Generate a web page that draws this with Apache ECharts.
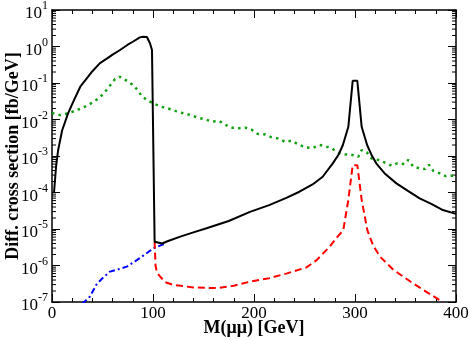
<!DOCTYPE html>
<html>
<head>
<meta charset="utf-8">
<script src="https://cdn.jsdelivr.net/npm/echarts@6/dist/echarts.min.js"></script>
<style>html,body{margin:0;padding:0;background:#fff}#c{width:470px;height:340px}</style>
</head>
<body>
<div id="c"></div>
<script>
// x tick labels
const xTicks = [0, 100, 200, 300, 400];
// y decade exponents shown as tick labels
const yExponents = [-7, -6, -5, -4, -3, -2, -1, 0, 1];

// total (black, solid)
const totalPts = [
  [2, 1.0e-4], [4, 5e-4], [6, 1.4e-3], [10, 5e-3], [16, 1.5e-2], [22, 3.5e-2],
  [28, 7.9e-2], [35, 0.14], [40, 0.21], [47.5, 0.35], [55, 0.48], [60, 0.6],
  [67, 0.79], [75, 1.12], [80, 1.35], [87, 1.78], [90, 1.86], [94, 1.82],
  [97, 1.23], [99, 0.8], [101.6, 4.5e-6], [109, 4.0e-6], [115, 4.7e-6],
  [127, 6.2e-6], [140, 8.1e-6], [153, 1.05e-5], [175, 1.66e-5], [196, 2.95e-5],
  [215, 4.5e-5], [232, 7.1e-5], [245, 1.05e-4], [258, 1.66e-4], [268, 2.7e-4],
  [278, 6.3e-4], [284, 1.12e-3], [288, 2.0e-3], [293.4, 6.3e-3], [297.7, 0.115],
  [302.3, 0.115], [306.6, 6.3e-3], [312, 2.0e-3], [316, 1.12e-3], [321, 6.3e-4],
  [330, 3.2e-4], [341, 1.78e-4], [352, 1.12e-4], [364, 6.9e-5], [376, 4.8e-5],
  [387, 3.3e-5], [400, 2.6e-5]
];

// red, dashed
const redPts = [
  [101.6, 4.5e-6], [102.5, 1.0e-6], [104, 6.3e-7], [107, 5e-7], [112, 3.5e-7],
  [120, 2.95e-7], [140, 2.5e-7], [163, 2.4e-7], [180, 2.8e-7], [196, 3.6e-7],
  [215, 4.5e-7], [232, 6.0e-7], [252, 8.9e-7], [262, 1.4e-6], [275, 3.3e-6],
  [283, 6.3e-6], [288.4, 9.3e-6], [293.4, 6.3e-5], [297.7, 5.6e-4], [302.3, 5.6e-4],
  [306.6, 6.3e-5], [312.2, 9.3e-6], [318, 3.5e-6], [324.8, 1.74e-6], [338, 7.6e-7],
  [357.8, 3.2e-7], [375, 1.6e-7], [384, 1.12e-7], [390, 7e-8]
];

// blue, dash-dot
const bluePts = [
  [30, 8.9e-8], [37.4, 1.4e-7], [44, 3.0e-7], [50, 4.5e-7], [57.4, 6.8e-7],
  [64, 7.6e-7], [74, 9.3e-7], [84, 1.4e-6], [92, 2.0e-6], [100.3, 2.95e-6],
  [113, 4.1e-6]
];

// green, dotted
const greenPts = [
  [0, 1.51e-2], [8, 1.32e-2], [16, 1.48e-2], [24, 1.78e-2], [30, 2.09e-2],
  [36, 2.5e-2], [42, 3.16e-2], [48, 4.2e-2], [53.5, 6.2e-2], [58, 8.9e-2],
  [62.4, 0.129], [67.3, 0.148], [73, 0.12], [80, 8.9e-2], [85, 6.3e-2],
  [89, 4.3e-2], [95.3, 3.24e-2], [102, 2.63e-2], [108, 2.24e-2], [115, 2.0e-2],
  [122.8, 1.7e-2], [130, 1.48e-2], [137.3, 1.32e-2], [144.2, 1.12e-2],
  [151.5, 1.02e-2], [158.4, 8.7e-3], [165.7, 9.1e-3], [170.6, 7.4e-3],
  [177.2, 6.0e-3], [184.5, 5.75e-3], [191.1, 6.0e-3], [197.7, 5.25e-3],
  [203.3, 4.07e-3], [210.9, 3.9e-3], [217.5, 3.24e-3], [224.1, 3.0e-3],
  [230.7, 2.45e-3], [237.3, 2.63e-3], [243.9, 2.09e-3], [250.5, 1.74e-3],
  [258, 1.66e-3], [264.7, 2.0e-3], [270.3, 1.86e-3], [276.9, 1.62e-3],
  [283.5, 1.23e-3], [290, 1.12e-3], [297.3, 1.07e-3], [303.3, 9.5e-4],
  [306.6, 1.45e-3], [311.6, 1.26e-3], [316.5, 8.5e-4], [323, 7.8e-4],
  [329.7, 6.6e-4], [336.3, 5.4e-4], [341.9, 6.3e-4], [348.8, 6.0e-4],
  [352.8, 7.8e-4], [357.8, 5.1e-4], [363.7, 4.6e-4], [369.3, 4.4e-4],
  [373.3, 5.75e-4], [377.6, 3.9e-4], [383.5, 3.4e-4], [390, 2.8e-4],
  [397.3, 2.9e-4], [400, 2.75e-4]
];

const X_MIN = xTicks[0], X_MAX = xTicks[xTicks.length - 1];
const Y_MIN = Math.pow(10, yExponents[0]), Y_MAX = Math.pow(10, yExponents[yExponents.length - 1]);

// log minor tick positions (2..9 x 10^n)
const minorY = [];
for (let e = yExponents[0]; e < yExponents[yExponents.length - 1]; e++) {
  for (let m = 2; m <= 9; m++) minorY.push([X_MIN, m * Math.pow(10, e)]);
}

const FONT = '"Liberation Serif", "Times New Roman", serif';
const chart = echarts.init(document.getElementById('c'), null, {renderer: 'canvas'});

const tickStyle = {color: '#000', width: 1};
chart.setOption({
  animation: false,
  backgroundColor: '#fff',
  grid: {left: 52, right: 14, top: 10, bottom: 38, containLabel: false, outerBoundsMode: 'none'},
  xAxis: [{
    type: 'value', min: X_MIN, max: X_MAX, interval: 100,
    name: 'M(μμ) [GeV]', nameLocation: 'middle', nameGap: 17, nameMoveOverlap: false,
    nameTextStyle: {fontFamily: FONT, fontWeight: 'bold', fontSize: 18, color: '#000'},
    axisLine: {show: true, onZero: false, lineStyle: {color: '#000', width: 1.5}},
    axisTick: {show: true, inside: true, length: 8, lineStyle: tickStyle},
    minorTick: {show: true, splitNumber: 5, length: 4, lineStyle: tickStyle},
    axisLabel: {fontFamily: FONT, fontSize: 17, color: '#000', margin: 3},
    splitLine: {show: false}
  }, {
    type: 'value', min: X_MIN, max: X_MAX, interval: 100, position: 'top',
    axisLine: {show: true, onZero: false, lineStyle: {color: '#000', width: 1.5}},
    axisTick: {show: true, inside: true, length: 8, lineStyle: tickStyle},
    minorTick: {show: true, splitNumber: 5, length: 4, lineStyle: tickStyle},
    axisLabel: {show: false},
    splitLine: {show: false}
  }],
  yAxis: [{
    type: 'log', logBase: 10, min: Y_MIN, max: Y_MAX, interval: 1,
    name: 'Diff. cross section [fb/GeV]', nameLocation: 'middle', nameGap: 30, nameMoveOverlap: false,
    nameTextStyle: {fontFamily: FONT, fontWeight: 'bold', fontSize: 18, color: '#000'},
    axisLine: {show: true, onZero: false, lineStyle: {color: '#000', width: 1.5}},
    axisTick: {show: true, inside: true, length: 8, lineStyle: tickStyle},
    minorTick: {show: false},
    axisLabel: {
      margin: 4,
      formatter: function (v) {
        const e = Math.round(Math.log10(v));
        return '{b|10}{s|' + e + '}';
      },
      rich: {
        b: {fontFamily: FONT, fontSize: 17, color: '#000', padding: [8, 0, 0, 0]},
        s: {fontFamily: FONT, fontSize: 12, color: '#000', padding: [0, 0, 8, 0]}
      }
    },
    splitLine: {show: false}
  }, {
    type: 'log', logBase: 10, min: Y_MIN, max: Y_MAX, interval: 1, position: 'right',
    axisLine: {show: true, onZero: false, lineStyle: {color: '#000', width: 1.5}},
    axisTick: {show: true, inside: true, length: 8, lineStyle: tickStyle},
    minorTick: {show: false},
    axisLabel: {show: false},
    splitLine: {show: false}
  }],
  series: [
    {
      type: 'custom', silent: true, clip: false, z: 1,
      data: minorY,
      renderItem: function (params, api) {
        const v = api.value(1);
        const pl = api.coord([X_MIN, v]);
        const pr = api.coord([X_MAX, v]);
        return {
          type: 'group',
          children: [
            {type: 'line', shape: {x1: pl[0], y1: pl[1], x2: pl[0] + 4, y2: pl[1]}, style: {stroke: '#000', lineWidth: 1}},
            {type: 'line', shape: {x1: pr[0], y1: pr[1], x2: pr[0] - 4, y2: pr[1]}, style: {stroke: '#000', lineWidth: 1}}
          ]
        };
      }
    },
    {
      type: 'line', data: greenPts, showSymbol: false, symbol: 'none', z: 2,
      lineStyle: {color: '#10a010', width: 2.5, type: [2.5, 4.2], cap: 'butt'}
    },
    {
      type: 'line', data: bluePts, showSymbol: false, symbol: 'none', z: 3,
      lineStyle: {color: '#0000ff', width: 2, type: [6, 3, 2, 3]}
    },
    {
      type: 'line', data: redPts, showSymbol: false, symbol: 'none', z: 4,
      lineStyle: {color: '#ff0000', width: 2, type: [7, 4]}
    },
    {
      type: 'line', data: totalPts, showSymbol: false, symbol: 'none', z: 5,
      lineStyle: {color: '#000', width: 2}
    }
  ]
});
</script>
</body>
</html>
